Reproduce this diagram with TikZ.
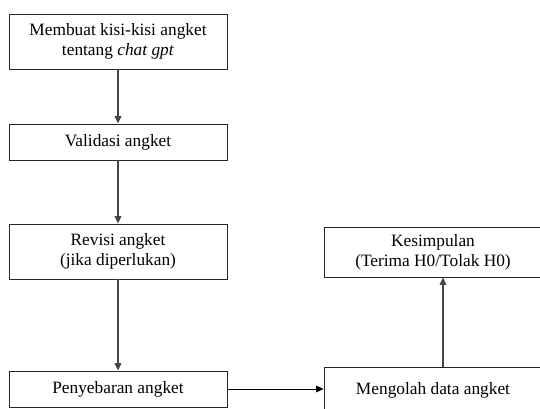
\documentclass[tikz,border=0pt]{standalone}
\usepackage{fontspec}
\setmainfont{Liberation Serif}
\usepackage{tikz}
\usetikzlibrary{arrows.meta,positioning}
\definecolor{colLINE}{RGB}{70,70,70}

\begin{document}
\begin{tikzpicture}[x=0.75pt, y=-0.75pt,
    every node/.style={font=\fontsize{13}{15}\selectfont, align=center},
    box/.style={draw=black!85, line width=0.7pt, rectangle, inner sep=0pt},
    arr/.style={-{Triangle[length=5.5pt,width=5pt]}, colLINE, line width=0.8pt}]
  \useasboundingbox (0,0) rectangle (540,409);
  % left column
  \node[box, minimum width=163.5pt, minimum height=41.25pt] (kisi) at (118,41.5)
    {Membuat kisi-kisi angket\\tentang \textit{chat gpt}};
  \node[box, minimum width=163.5pt, minimum height=27pt] (valid) at (118,142)
    {Validasi angket};
  \node[box, minimum width=163.5pt, minimum height=41.25pt] (revisi) at (118,251.5)
    {Revisi angket\\(jika diperlukan)};
  \node[box, minimum width=163.5pt, minimum height=27pt] (sebar) at (118,389)
    {Penyebaran angket};
  % right column (cut off at the page edge)
  \node[box, minimum width=163.5pt, minimum height=37.5pt] (simpul) at (433,252)
    {Kesimpulan\\(Terima H0/Tolak H0)};
  \node[box, minimum width=163.5pt, minimum height=34.5pt] (olah) at (433,390)
    {Mengolah data angket};
  % arrows
  \draw[arr] (kisi) -- (valid);
  \draw[arr] (valid) -- (revisi);
  \draw[arr] (revisi) -- (sebar);
  \draw[arr, black, line width=0.6pt] (sebar.east) -- (olah.west |- sebar.east);
  \draw[arr] ([xshift=7.5pt]olah.north) -- ([xshift=7.5pt]simpul.south);
\end{tikzpicture}
\end{document}
